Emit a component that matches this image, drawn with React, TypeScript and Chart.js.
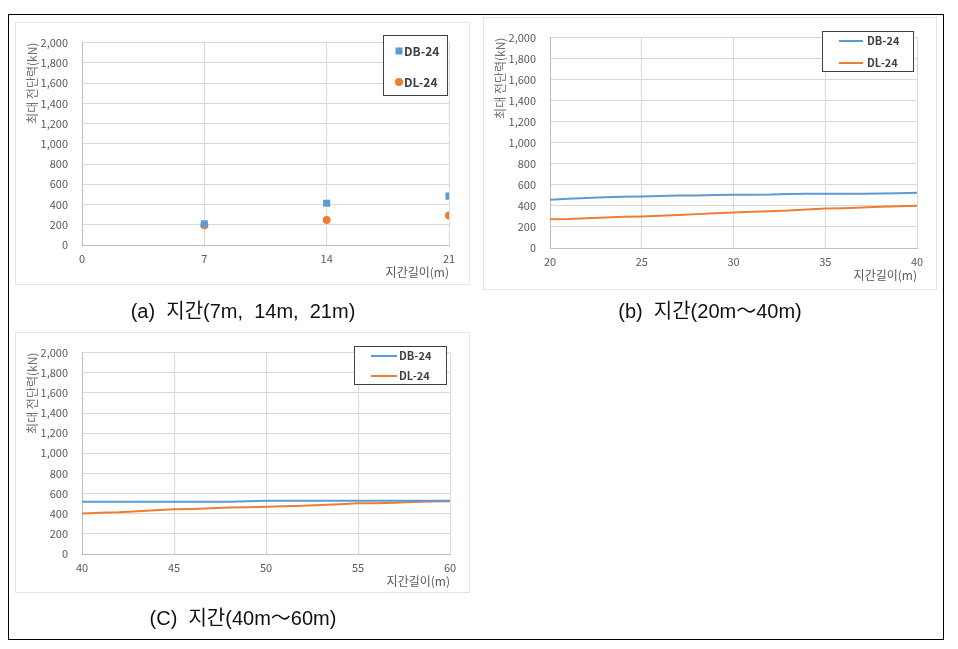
import React, { useEffect, useRef } from 'react';
import { Chart, registerables } from 'chart.js';

Chart.register(...registerables);

// ---------- data ----------
const seriesNames = ['DB-24', 'DL-24'];
const yAxisTitle = '최대 전단력(kN)';
const xAxisTitle = '지간길이(m)';
const captions = ['(a)  지간(7m,  14m,  21m)', '(b)  지간(20m～40m)', '(C)  지간(40m～60m)'];

const spansA = [7, 14, 21];
const dbA = [210, 412, 483];
const dlA = [195, 248, 292];

const spansB = [20, 21, 22, 23, 24, 25, 26, 27, 28, 29, 30, 31, 32, 33, 34, 35, 36, 37, 38, 39, 40];
const dbB = [458, 467, 476, 483, 486, 490, 494, 498, 500, 503, 506, 507, 508, 514, 516, 516, 516, 516, 517, 521, 525];
const dlB = [273, 276, 283, 290, 296, 300, 306, 314, 322, 330, 338, 344, 350, 356, 366, 375, 378, 384, 392, 397, 402];

const spansC = [40, 41, 42, 43, 44, 45, 46, 47, 48, 49, 50, 51, 52, 53, 54, 55, 56, 57, 58, 59, 60];
const dbC = [519, 519, 519, 519, 519, 519, 519, 519, 519, 524, 528, 528, 528, 528, 528, 528, 528, 528, 528, 528, 528];
const dlC = [401, 410, 414, 424, 435, 445, 448, 454, 461, 465, 468, 473, 478, 486, 495, 503, 505, 509, 517, 521, 525];

const yMin = 0;
const yMax = 2000;
const yStep = 200;

// ---------- style ----------
const FONT = "'Noto Sans CJK KR', 'Noto Sans', sans-serif";
const CAPTION_FONT = "'Liberation Sans', 'Noto Sans CJK KR', sans-serif";
const BLUE = '#5B9BD5';
const ORANGE = '#ED7D31';
const GRID = '#d9d9d9';
const AXIS = '#bfbfbf';
const TICK = '#595959';
const TITLE = '#707070';

const boxLegend = {
  id: 'boxLegend',
  afterDraw(chart: any, _args: any, opts: any) {
    if (!opts || !opts.display) return;
    const ctx = chart.ctx;
    ctx.save();
    ctx.fillStyle = '#ffffff';
    ctx.fillRect(opts.left, opts.top, opts.width, opts.height);
    ctx.strokeStyle = '#404040';
    ctx.lineWidth = 1;
    ctx.strokeRect(opts.left + 0.5, opts.top + 0.5, opts.width - 1, opts.height - 1);
    ctx.font = opts.font;
    ctx.textBaseline = 'middle';
    ctx.textAlign = 'left';
    chart.data.datasets.forEach((ds: any, i: number) => {
      const y = opts.rows[i];
      if (opts.kind === 'line') {
        ctx.strokeStyle = ds.borderColor;
        ctx.lineWidth = 2;
        ctx.beginPath();
        ctx.moveTo(opts.markerX, y);
        ctx.lineTo(opts.markerX + opts.markerW, y);
        ctx.stroke();
      } else {
        ctx.fillStyle = ds.backgroundColor;
        if (ds.pointStyle === 'rect') {
          ctx.fillRect(opts.markerX - 3.5, y - 3.5, 7, 7);
        } else {
          ctx.beginPath();
          ctx.arc(opts.markerX, y, 4, 0, Math.PI * 2);
          ctx.fill();
        }
      }
      ctx.fillStyle = '#404040';
      ctx.fillText(ds.label, opts.textX, y);
    });
    ctx.restore();
  },
};

function fmt(v: number) {
  return Number(v).toLocaleString('en-US');
}

interface PanelSpec {
  kind: 'scatter' | 'line';
  xs: number[];
  db: number[];
  dl: number[];
  xMin: number;
  xMax: number;
  xStep: number;
  height: number;
  rightPad: number;
  bottomGap: number;
  xTitlePad: number;
  legend: any;
}

function buildConfig(p: PanelSpec): any {
  const toPts = (vals: number[]) => p.xs.map((x, i) => ({ x, y: vals[i] }));
  const datasets =
    p.kind === 'scatter'
      ? [
          { label: seriesNames[0], data: toPts(p.db), backgroundColor: BLUE, borderColor: BLUE, pointStyle: 'rect', pointRadius: 5, borderWidth: 0 },
          { label: seriesNames[1], data: toPts(p.dl), backgroundColor: ORANGE, borderColor: ORANGE, pointStyle: 'circle', pointRadius: 4, borderWidth: 0 },
        ]
      : [
          { label: seriesNames[0], data: toPts(p.db), borderColor: BLUE, backgroundColor: BLUE, borderWidth: 2, pointRadius: 0, tension: 0 },
          { label: seriesNames[1], data: toPts(p.dl), borderColor: ORANGE, backgroundColor: ORANGE, borderWidth: 2, pointRadius: 0, tension: 0 },
        ];
  return {
    type: p.kind,
    data: { datasets },
    plugins: [boxLegend],
    options: {
      responsive: false,
      animation: false,
      events: [],
      layout: { padding: { left: 0, top: 13, right: p.rightPad, bottom: 0 } },
      plugins: {
        legend: { display: false },
        tooltip: { enabled: false },
        boxLegend: p.legend,
      },
      scales: {
        x: {
          type: 'linear',
          min: p.xMin,
          max: p.xMax,
          afterFit: (s: any) => { s.height = p.bottomGap; },
          ticks: { stepSize: p.xStep, color: TICK, font: { family: FONT, size: 11 }, padding: 7, maxRotation: 0 },
          grid: { color: GRID, drawTicks: false },
          border: { color: AXIS },
          title: {
            display: true,
            text: xAxisTitle,
            align: 'end',
            color: TICK,
            font: { family: FONT, size: 12 },
            padding: { top: 0, bottom: p.xTitlePad },
          },
        },
        y: {
          min: yMin,
          max: yMax,
          afterFit: (s: any) => { s.width = 67; },
          ticks: { stepSize: yStep, color: TICK, font: { family: FONT, size: 11 }, padding: 14, callback: (v: any) => fmt(v) },
          grid: { color: GRID, drawTicks: false },
          border: { color: AXIS },
          title: {
            display: true,
            text: yAxisTitle,
            align: 'end',
            color: TITLE,
            font: { family: FONT, size: 12 },
            padding: { top: 10, bottom: 0 },
          },
        },
      },
    },
  };
}

function ChartPanel({ left, top, width, spec }: { left: number; top: number; width: number; spec: PanelSpec }) {
  const ref = useRef<HTMLCanvasElement>(null);
  useEffect(() => {
    const chart = new Chart(ref.current as HTMLCanvasElement, buildConfig(spec));
    return () => chart.destroy();
  }, []);
  return (
    <>
      <canvas
        ref={ref}
        width={width}
        height={spec.height}
        style={{ position: 'absolute', left, top, width, height: spec.height, display: 'block', background: '#fff' }}
      />
      <div
        style={{
          position: 'absolute',
          left,
          top,
          width,
          height: spec.height,
          boxSizing: 'border-box',
          border: '1px solid #e6e6e6',
          pointerEvents: 'none',
        }}
      />
    </>
  );
}

const specA: PanelSpec = {
  kind: 'scatter', xs: spansA, db: dbA, dl: dlA, xMin: 0, xMax: 21, xStep: 7,
  height: 263, rightPad: 21, bottomGap: 40, xTitlePad: 5,
  legend: { display: true, kind: 'point', left: 368, top: 13, width: 65, height: 61, rows: [29, 60], markerX: 384, markerW: 0, textX: 389, font: `bold 12px ${FONT}` },
};
const specB: PanelSpec = {
  kind: 'line', xs: spansB, db: dbB, dl: dlB, xMin: 20, xMax: 40, xStep: 5,
  height: 273, rightPad: 20, bottomGap: 42, xTitlePad: 7,
  legend: { display: true, kind: 'line', left: 339, top: 14, width: 92, height: 41, rows: [24, 46], markerX: 356, markerW: 24, textX: 384, font: `bold 11px ${FONT}` },
};
const specC: PanelSpec = {
  kind: 'line', xs: spansC, db: dbC, dl: dlC, xMin: 40, xMax: 60, xStep: 5,
  height: 261, rightPad: 20, bottomGap: 39, xTitlePad: 4,
  legend: { display: true, kind: 'line', left: 339, top: 14, width: 93, height: 39, rows: [24, 44], markerX: 356, markerW: 26, textX: 384, font: `bold 11px ${FONT}` },
};

const captionStyle: React.CSSProperties = {
  position: 'absolute',
  height: 26,
  lineHeight: '26px',
  textAlign: 'center',
  fontFamily: CAPTION_FONT,
  fontSize: 20,
  color: '#111',
  whiteSpace: 'pre',
};

export default function App() {
  return (
    <div style={{ position: 'absolute', left: 0, top: 0, width: 958, height: 649, background: '#fff', overflow: 'hidden' }}>
      <div style={{ position: 'absolute', left: 8, top: 14, width: 936, height: 626, boxSizing: 'border-box', border: '1px solid #000' }} />
      <ChartPanel left={15} top={22} width={455} spec={specA} />
      <ChartPanel left={483} top={17} width={454} spec={specB} />
      <ChartPanel left={15} top={332} width={455} spec={specC} />
      <div style={{ ...captionStyle, left: 8, width: 470, top: 298 }}>{captions[0]}</div>
      <div style={{ ...captionStyle, left: 483, width: 454, top: 298 }}>{captions[1]}</div>
      <div style={{ ...captionStyle, left: 8, width: 470, top: 605 }}>{captions[2]}</div>
    </div>
  );
}
